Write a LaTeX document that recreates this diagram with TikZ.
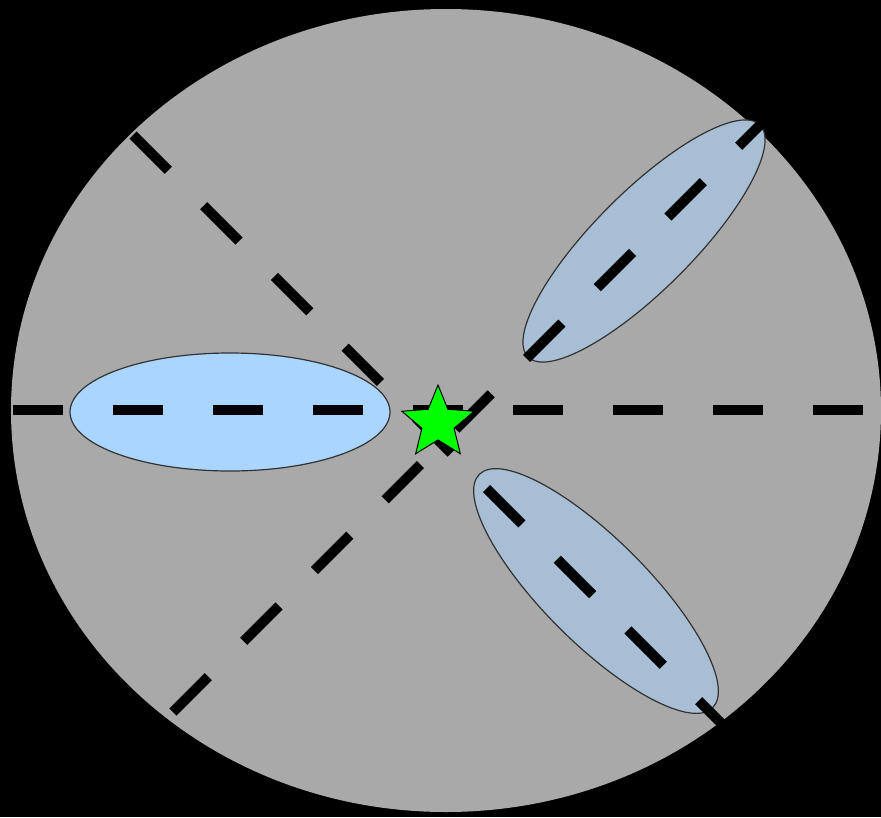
\documentclass[tikz,border=0pt]{standalone}
\usetikzlibrary{shapes.geometric}
\definecolor{bggray}{RGB}{169,169,169}
\definecolor{lightblob}{RGB}{170,213,255}
\definecolor{steelblob}{RGB}{167,190,212}
\definecolor{rimcol}{RGB}{50,50,50}
\definecolor{stargreen}{RGB}{0,255,0}
\tikzset{
  blob/.style={ellipse, draw=rimcol, line width=1.2pt, inner sep=0pt},
  dashline/.style={line width=10pt, line cap=butt, dash pattern=on 50pt off 50pt, black},
  starnode/.style={star, star points=5, star point ratio=2.25, minimum size=76pt, inner sep=0pt, fill=stargreen, draw=black, line width=1pt}
}
\begin{document}
\begin{tikzpicture}[x=1pt,y=-1pt]
\useasboundingbox (0,0) rectangle (881,817);
\fill[black] (0,0) rectangle (881,817);
\fill[bggray] (446,410.5) ellipse [x radius=435, y radius=401.5];
% blobs
\node[blob, fill=lightblob, minimum width=320pt, minimum height=118pt] (left) at (230,412) {};
\node[blob, fill=steelblob, minimum width=328pt, minimum height=98pt, rotate=45] (upright) at (644,241) {};
\node[blob, fill=steelblob, minimum width=330pt, minimum height=104pt, rotate=-45] (lowright) at (596,591) {};
% line end points
\coordinate (hA) at (13,410);
\coordinate (hB) at (863,410);
\coordinate (dA) at (133,135);
\coordinate (dB) at (728,730);
\coordinate (eA) at (173,712);
\coordinate (eB) at (762,123);
\draw[dashline] (hA) -- (hB);
\draw[dashline] (dA) -- (dB);
\draw[dashline] (eA) -- (eB);
% star
\node[starnode] (source) at (438,423) {};
\end{tikzpicture}
\end{document}
